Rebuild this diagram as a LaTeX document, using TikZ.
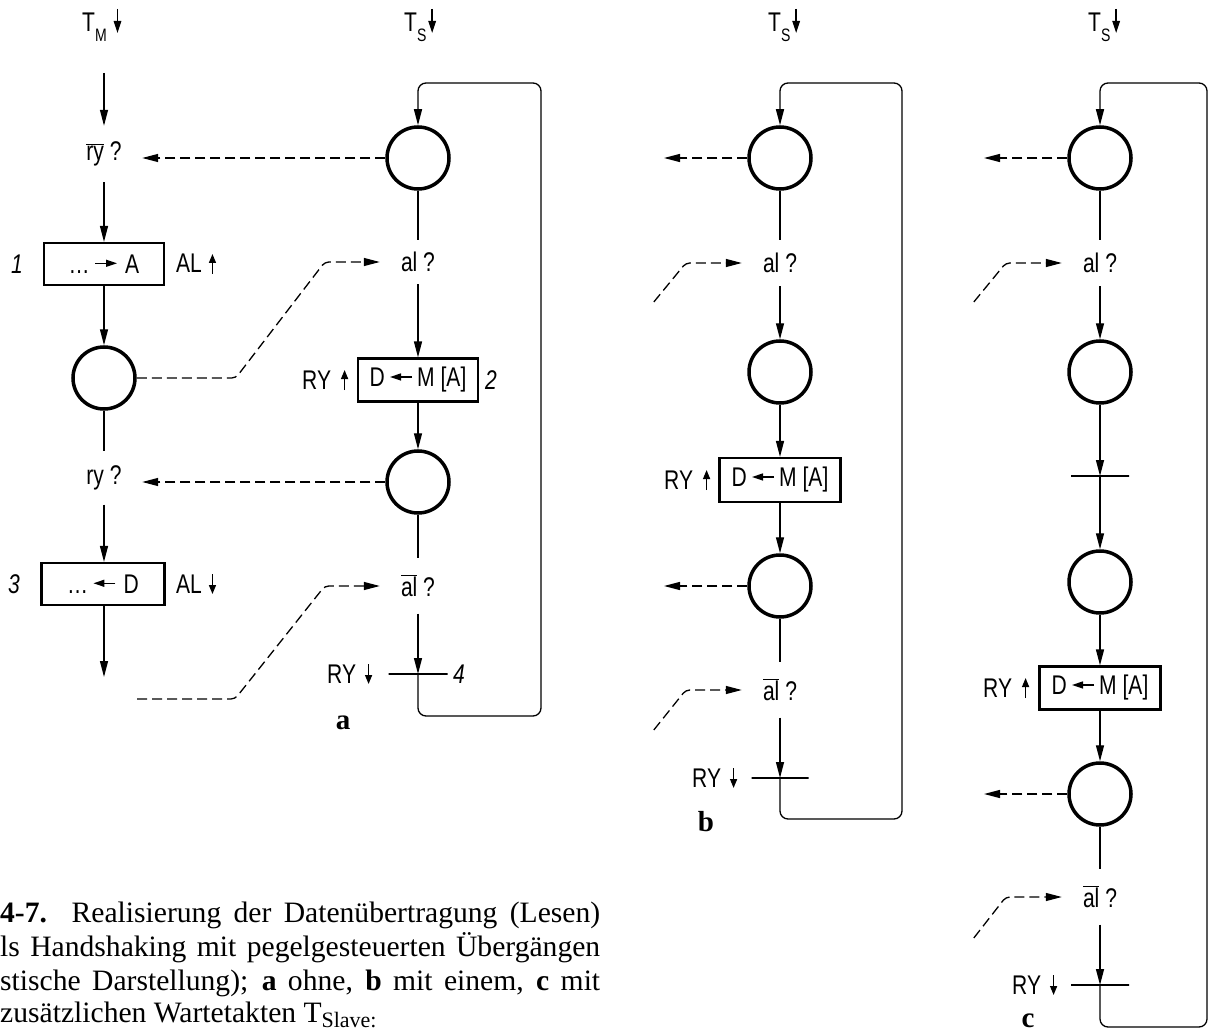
\documentclass[tikz,border=0pt]{standalone}
\usepackage{fontspec}
\setmainfont{Liberation Serif}
\newfontfamily\labfont[FakeStretch=0.78]{Liberation Sans}
\usetikzlibrary{arrows.meta,calc}
\newcommand\uparr{\tikz[baseline=0pt,x=1pt,y=1pt]\draw[line width=1.4pt,-{Triangle[length=9pt,width=7pt]}] (0,-1) -- (0,19);}
\newcommand\dnarr{\tikz[baseline=0pt,x=1pt,y=1pt]\draw[line width=1.4pt,-{Triangle[length=9pt,width=7pt]}] (0,19) -- (0,-1);}
\newcommand\tarr{\tikz[baseline=0pt,x=1pt,y=1pt]\draw[line width=1.4pt,-{Triangle[length=12pt,width=7.5pt]}] (0,23) -- (0,-1);}
\newcommand\rtarr{\tikz[baseline=-10pt,x=1pt,y=1pt]\draw[line width=1.4pt,-{Triangle[length=11pt,width=7pt]}] (0,0) -- (22,0);}
\newcommand\ltarr{\tikz[baseline=-10pt,x=1pt,y=1pt]\draw[line width=1.4pt,-{Triangle[length=11pt,width=7pt]}] (22,0) -- (0,0);}
\begin{document}
\begin{tikzpicture}[x=1pt,y=-1pt,
  >={Triangle[length=16pt,width=8pt]},
  every node/.style={font=\labfont\fontsize{27}{32}\selectfont},
  ln/.style={line width=1.3pt},
  dsh/.style={line width=1.3pt,dash pattern=on 10pt off 5pt},
  circ/.style={circle,draw,line width=3.5pt,minimum size=62pt,inner sep=0pt},
  bx/.style={rectangle,draw,line width=2.2pt,minimum height=42pt,inner sep=0pt},
  qnode/.style={inner sep=0pt,minimum width=76pt},
  barline/.style={rectangle,draw,line width=2pt,minimum height=0pt,inner sep=0pt},
  lab/.style={inner sep=0pt},
  numlab/.style={inner sep=0pt,font=\labfont\itshape\fontsize{27}{32}\selectfont},
  sublab/.style={inner sep=0pt,font=\rmfamily\bfseries\fontsize{29}{30}\selectfont},
  captxt/.style={anchor=base west,inner sep=0pt,font=\rmfamily\fontsize{29.6}{34}\selectfont},
]
\useasboundingbox (0,0) rectangle (1218,1032);

% ---------- master column ----------
\node[lab,anchor=base west] (tm) at (82,32) {T\raisebox{-10pt}{\fontsize{18}{18}\selectfont M}\hspace{7pt}\tarr};
\coordinate (mstart) at (104,73);
\node[qnode,minimum height=56pt] (ry1) at (104,154) {$\overline{\mbox{ry}}$ ?};
\node[bx,minimum width=120pt] (b1) at (104,264) {\ldots\,\rtarr\;A};
\node[numlab] (n1) at (17,264) {1};
\node[lab,anchor=west] (al1lab) at (176,264) {AL\hspace{7pt}\uparr};
\node[circ] (mc) at (104,378) {};
\node[qnode,minimum height=53pt] (ry2) at (104,478) {ry ?};
\node[bx,minimum width=123pt] (b3) at (103,584) {\ldots\,\ltarr\;D};
\node[numlab] (n3) at (14,584) {3};
\node[lab,anchor=west] (al2lab) at (176,584) {AL\hspace{7pt}\dnarr};
\coordinate (mend) at (104,677);
\coordinate (mfree) at (137,699);

% ---------- slave column a ----------
\node[lab,anchor=base west] (tsa) at (404,32) {T\raisebox{-10pt}{\fontsize{18}{18}\selectfont S}\hspace{2pt}\tarr};
\node[circ] (sa1) at (418,158) {};
\node[qnode,minimum height=44pt] (al1) at (418,262) {al ?};
\node[bx,minimum width=120pt,minimum height=43pt] (b2) at (418,380) {D\,\ltarr\,M [A]};
\node[lab,anchor=west] (rya) at (302,380) {RY\hspace{10pt}\uparr};
\node[numlab] (n2) at (491,380) {2};
\node[circ] (sa2) at (418,482) {};
\node[qnode,minimum height=55pt] (al2) at (418,586) {$\overline{\mbox{al}}$ ?};
\node[barline,minimum width=59pt] (bara) at (418,674) {};
\node[lab,anchor=west] (ryda) at (327,674) {RY\hspace{9pt}\dnarr};
\node[numlab] (n4) at (459,674) {4};
\node[sublab] (la) at (343,723) {a};
\coordinate (loopaB) at (541,716);
\coordinate (loopaT) at (541,83);

\draw[ln,->] (mstart) -- (ry1.north);
\draw[ln,->] (ry1.south) -- (b1.north);
\draw[ln,->] (b1.south) -- (mc.north);
\draw[ln] (mc.south) -- (ry2.north);
\draw[ln,->] (ry2.south) -- (ry2.south |- b3.north);
\draw[ln,->] (mend |- b3.south) -- (mend);

\draw[ln] (sa1.south) -- (al1.north);
\draw[ln,->] (al1.south) -- (b2.north);
\draw[ln,->] (b2.south) -- (sa2.north);
\draw[ln] (sa2.south) -- (al2.north);
\draw[ln,->] (al2.south) -- (bara.center);
\draw[ln,->,rounded corners=8pt] (bara.center) |- (loopaB) -- (loopaT) -| (sa1.north);

\draw[dsh,->] (sa1.west) -- (sa1.west -| ry1.east);
\draw[dsh,->] (sa2.west) -- (sa2.west -| ry2.east);
\draw[dsh,->,rounded corners=4pt] (mc.east) -- ++(99,0) -- ($(al1.west)+(-55,0)$) -- (al1.west);
\draw[dsh,->,rounded corners=4pt] (mfree) -- ++(98,0) -- ($(al2.west)+(-55,0)$) -- (al2.west);

% ---------- slave column b ----------
\node[lab,anchor=base west] (tsb) at (768,32) {T\raisebox{-10pt}{\fontsize{18}{18}\selectfont S}\hspace{2pt}\tarr};
\node[circ] (sb1) at (780,158) {};
\node[qnode,minimum height=46pt] (qb1) at (780,263) {al ?};
\node[circ] (sb2) at (780,372) {};
\node[bx,minimum width=121pt,minimum height=44pt] (bb) at (780,480) {D\,\ltarr\,M [A]};
\node[lab,anchor=west] (ryb) at (664,480) {RY\hspace{10pt}\uparr};
\node[circ] (sb3) at (780,586) {};
\node[qnode,minimum height=55pt] (qb2) at (780,690) {$\overline{\mbox{al}}$ ?};
\node[barline,minimum width=57pt] (barb) at (780,778) {};
\node[lab,anchor=west] (rydb) at (692,778) {RY\hspace{9pt}\dnarr};
\node[sublab] (lb) at (706,822) {b};
\coordinate (loopbB) at (902,819);
\coordinate (loopbT) at (902,83);
\coordinate (ob1) at (664,158);
\coordinate (ob3) at (664,586);
\coordinate (ib1) at ($(qb1.west)+(-88,39)$);
\coordinate (ib2) at ($(qb2.west)+(-88,40)$);

\draw[ln] (sb1.south) -- (qb1.north);
\draw[ln,->] (qb1.south) -- (sb2.north);
\draw[ln,->] (sb2.south) -- (bb.north);
\draw[ln,->] (bb.south) -- (sb3.north);
\draw[ln] (sb3.south) -- (qb2.north);
\draw[ln,->] (qb2.south) -- (barb.center);
\draw[ln,->,rounded corners=8pt] (barb.center) |- (loopbB) -- (loopbT) -| (sb1.north);
\draw[dsh,->] (sb1.west) -- (ob1);
\draw[dsh,->] (sb3.west) -- (ob3);
\draw[dsh,->,rounded corners=4pt] (ib1) -- ++(32,-39) -- (qb1.west);
\draw[dsh,->,rounded corners=4pt] (ib2) -- ++(32,-40) -- (qb2.west);

% ---------- slave column c ----------
\node[lab,anchor=base west] (tsc) at (1088,32) {T\raisebox{-10pt}{\fontsize{18}{18}\selectfont S}\hspace{2pt}\tarr};
\node[circ] (c1) at (1100,158) {};
\node[qnode,minimum height=46pt] (qc1) at (1100,263) {al ?};
\node[circ] (c2) at (1100,372) {};
\node[barline,minimum width=58pt] (barc1) at (1100,476) {};
\node[circ] (c3) at (1100,582) {};
\node[bx,minimum width=121pt,minimum height=43pt] (bc) at (1100,688) {D\,\ltarr\,M [A]};
\node[lab,anchor=west] (ryc) at (983,688) {RY\hspace{10pt}\uparr};
\node[circ] (c4) at (1100,794) {};
\node[qnode,minimum height=55pt] (qc2) at (1100,897) {$\overline{\mbox{al}}$ ?};
\node[barline,minimum width=58pt] (barc2) at (1100,985) {};
\node[lab,anchor=west] (rydc) at (1012,985) {RY\hspace{9pt}\dnarr};
\node[sublab] (lc) at (1028,1021) {c};
\coordinate (loopcB) at (1207,1027);
\coordinate (loopcT) at (1207,83);
\coordinate (oc1) at (984,158);
\coordinate (oc4) at (984,794);
\coordinate (ic1) at ($(qc1.west)+(-88,39)$);
\coordinate (ic2) at ($(qc2.west)+(-88,41)$);

\draw[ln] (c1.south) -- (qc1.north);
\draw[ln,->] (qc1.south) -- (c2.north);
\draw[ln,->] (c2.south) -- (barc1.center);
\draw[ln,->] (barc1.center) -- (c3.north);
\draw[ln,->] (c3.south) -- (bc.north);
\draw[ln,->] (bc.south) -- (c4.north);
\draw[ln] (c4.south) -- (qc2.north);
\draw[ln,->] (qc2.south) -- (barc2.center);
\draw[ln,->,rounded corners=8pt] (barc2.center) |- (loopcB) -- (loopcT) -| (c1.north);
\draw[dsh,->] (c1.west) -- (oc1);
\draw[dsh,->] (c4.west) -- (oc4);
\draw[dsh,->,rounded corners=4pt] (ic1) -- ++(32,-39) -- (qc1.west);
\draw[dsh,->,rounded corners=4pt] (ic2) -- ++(32,-41) -- (qc2.west);

% ---------- caption ----------
\node[captxt] (cap1) at (0,922) {\makebox[600pt][s]{\textbf{4-7.} Realisierung der Datenübertragung (Lesen)}};
\node[captxt] (cap2) at (0,956) {\makebox[600pt][s]{ls Handshaking mit pegelgesteuerten Übergängen}};
\node[captxt] (cap3) at (0,990) {\makebox[600pt][s]{stische Darstellung); \textbf{a} ohne, \textbf{b} mit einem, \textbf{c} mit}};
\node[captxt] (cap4) at (0,1022) {zusätzlichen Wartetakten T\raisebox{-5pt}{\fontsize{22}{22}\selectfont Slave:}};
\end{tikzpicture}
\end{document}
